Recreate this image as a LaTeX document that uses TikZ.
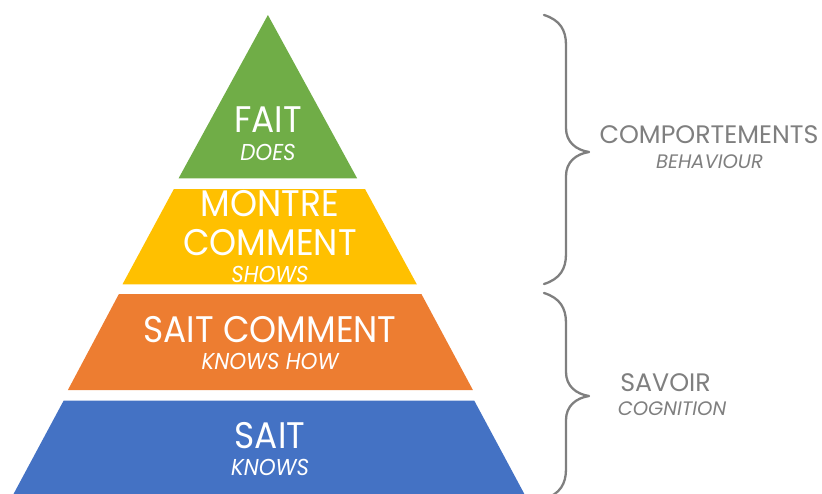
\documentclass[tikz,border=0pt]{standalone}
\usepackage{fontspec}
\setmainfont{Poppins}
\newfontfamily\pyrfont[FakeStretch=0.93]{Poppins}
\definecolor{pgreen}{HTML}{70AD47}
\definecolor{pyellow}{HTML}{FFC000}
\definecolor{porange}{HTML}{ED7D31}
\definecolor{pblue}{HTML}{4472C4}
\definecolor{pgray}{HTML}{7F7F7F}
\begin{document}
\begin{tikzpicture}[x=1pt,y=-1pt,
  maintxt/.style={anchor=base,inner sep=0pt,text=white,font=\pyrfont\fontsize{37}{40}\selectfont},
  subtxt/.style={anchor=base,inner sep=0pt,text=white,font=\pyrfont\fontsize{23}{26}\selectfont\itshape},
  graymain/.style={anchor=base,inner sep=0pt,text=pgray,font=\fontsize{25.3}{28}\selectfont},
  graysub/.style={anchor=base,inner sep=0pt,text=pgray,font=\fontsize{19.5}{21}\selectfont\itshape},
  bracestyle/.style={draw=pgray,line width=2.3pt,line cap=round,line join=round}]
\useasboundingbox (0,0) rectangle (822,493);
\clip (0,0) rectangle (822,493);
% pyramid levels
\fill[pgreen] (267.9,15) -- (357.1,178.3) -- (178.6,178.3) -- cycle;
\fill[pyellow] (173.9,189) -- (365,189) -- (416.8,284.3) -- (122.5,284.3) -- cycle;
\fill[porange] (118.9,294) -- (421.4,294) -- (472.9,390) -- (67.9,390) -- cycle;
\fill[pblue] (63.6,400.7) -- (474.3,400.7) -- (527.6,500) -- (10.3,500) -- cycle;
% texts
\node[maintxt] (fait) at (268,132.3) {FAIT};
\node[subtxt] (does) at (268,160) {DOES};
\node[maintxt] (montre) at (270,216.7) {MONTRE};
\node[maintxt] (comment) at (270,255) {COMMENT};
\node[subtxt] (shows) at (270,282.3) {SHOWS};
\node[maintxt] (saitcomment) at (270,342.3) {SAIT COMMENT};
\node[subtxt] (knowshow) at (270,369.3) {KNOWS HOW};
\node[maintxt] (sait) at (270,448.3) {SAIT};
\node[subtxt] (knows) at (270,475) {KNOWS};
% braces
\draw[bracestyle] (544,15) .. controls (560,20) and (566,30) .. (566,45)
  -- (566,128) .. controls (566,142) and (576,150) .. (589,152)
  .. controls (576,154) and (566,162) .. (566,176)
  -- (566,254) .. controls (566,269) and (560,279) .. (544,284);
\draw[bracestyle] (544,293) .. controls (560,298) and (566,308) .. (566,323)
  -- (566,372) .. controls (566,386) and (576,394) .. (589,396)
  .. controls (576,398) and (566,406) .. (566,420)
  -- (566,469) .. controls (566,484) and (560,494) .. (544,499);
% right labels
\node[graymain] (comp) at (709,143.5) {COMPORTEMENTS};
\node[graysub] (behav) at (709.5,168.3) {BEHAVIOUR};
\node[graymain] (savoir) at (665.5,391) {SAVOIR};
\node[graysub] (cogn) at (672,415.5) {COGNITION};
\end{tikzpicture}
\end{document}
